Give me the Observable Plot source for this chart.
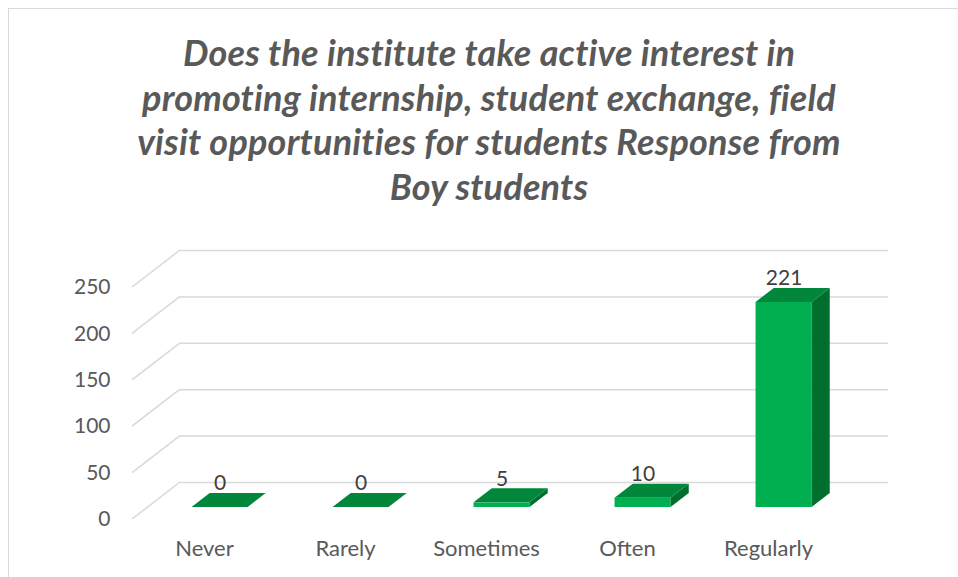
<!DOCTYPE html>
<html>
<head>
<meta charset="utf-8">
<script src="https://cdn.jsdelivr.net/npm/d3@7"></script>
<script src="https://cdn.jsdelivr.net/npm/@observablehq/plot@0.6"></script>
<style>
  html, body { margin: 0; padding: 0; background: #fff; overflow: hidden; }
  #wrap { position: relative; width: 958px; height: 577px; overflow: hidden; }
  #frame { position: absolute; left: 8px; top: 8px; width: 1000px; height: 1000px;
           border: 1.5px solid #d9d9d9; box-sizing: border-box; pointer-events: none; }
  #title { height: 220px; box-sizing: border-box; padding-top: 30px; padding-left: 20px;
           text-align: center; font-family: Lato, "Open Sans", sans-serif; font-weight: bold;
           font-style: italic; font-size: 36px; letter-spacing: 0.2px; line-height: 44.5px; color: #595959; }
  #title div { white-space: nowrap; }
  #chart svg { display: block; }
</style>
</head>
<body>
<div id="wrap">
  <div id="title"></div>
  <div id="chart"></div>
  <div id="frame"></div>
</div>
<script>
// ---- data ----
const categories = ["Never", "Rarely", "Sometimes", "Often", "Regularly"];
const counts = [0, 0, 5, 10, 221];
const yTicks = [0, 50, 100, 150, 200, 250];
const titleLines = [
  "Does the institute take active interest in",
  "promoting internship, student exchange, field",
  "visit opportunities for students Response from",
  "Boy students"
];

// ---- style / layout ----
const FRONT_COLOR = "#00b050", SIDE_COLOR = "#006f2e", TOP_COLOR = "#00873b";
const GRID = "#d9d9d9", AXIS_TEXT = "#595959", LABEL_TEXT = "#404040";
const FONT = "Lato, 'Open Sans', sans-serif";
const DX = 48, DY = 37;            // projection of the full floor depth, px
const FRONT = 0.676, BACK = 0.297; // depth fractions of the bar front / back faces

const data = categories.map((c, i) => ({category: c, value: counts[i]}));

const titleEl = document.getElementById("title");
for (const line of titleLines) {
  const d = document.createElement("div");
  d.textContent = line;
  titleEl.appendChild(d);
}

function floorDiagonals(index, scales, values, dims) {
  const g = d3.create("svg:g").attr("stroke", GRID).attr("stroke-width", 1.5);
  for (const t of yTicks) {
    const yy = scales.y(t);
    g.append("line")
      .attr("x1", dims.marginLeft).attr("y1", yy)
      .attr("x2", dims.marginLeft - DX).attr("y2", yy + DY);
  }
  return g.node();
}

function sideAndTop(index, scales) {
  const g = d3.create("svg:g");
  const {x, y} = scales;
  const bw = x.bandwidth();
  const fx = -DX * FRONT, fy = DY * FRONT, bx = -DX * BACK, by = DY * BACK;
  data.forEach(d => {
    const xl = x(d.category), xr = xl + bw;
    const yt = y(d.value), yb = y(0);
    g.append("path")
      .attr("d", `M${xr + fx},${yt + fy}L${xr + bx},${yt + by}L${xr + bx},${yb + by}L${xr + fx},${yb + fy}Z`)
      .attr("fill", SIDE_COLOR);
    g.append("path")
      .attr("d", `M${xl + fx},${yt + fy}L${xr + fx},${yt + fy}L${xr + bx},${yt + by}L${xl + bx},${yt + by}Z`)
      .attr("fill", TOP_COLOR);
  });
  return g.node();
}

const chart = Plot.plot({
  width: 958,
  height: 357,
  marginTop: 30,
  marginBottom: 95,
  marginLeft: 180,
  marginRight: 70,
  style: {fontFamily: FONT, background: "transparent", overflow: "visible"},
  x: {domain: categories, paddingInner: 0.6, paddingOuter: 0.3, axis: null},
  y: {domain: [0, 250], axis: null},
  marks: [
    Plot.ruleY(yTicks, {y: d => d, stroke: GRID, strokeWidth: 1.5}),
    floorDiagonals,
    Plot.text(yTicks, {y: d => d, text: d => String(d), frameAnchor: "left", textAnchor: "end",
      dx: -70, dy: DY, fill: AXIS_TEXT, fontSize: 21}),
    Plot.text(categories, {x: d => d, text: d => d, frameAnchor: "bottom", dx: -DX, dy: DY + 36,
      fill: AXIS_TEXT, fontSize: 22}),
    Plot.barY(data, {x: "category", y: "value", fill: FRONT_COLOR, dx: -DX * FRONT, dy: DY * FRONT}),
    sideAndTop,
    Plot.text(data, {x: "category", y: "value", text: d => String(d.value), dx: -DX * FRONT, dy: 1,
      fill: LABEL_TEXT, fontSize: 21})
  ]
});
document.getElementById("chart").appendChild(chart);
</script>
</body>
</html>
